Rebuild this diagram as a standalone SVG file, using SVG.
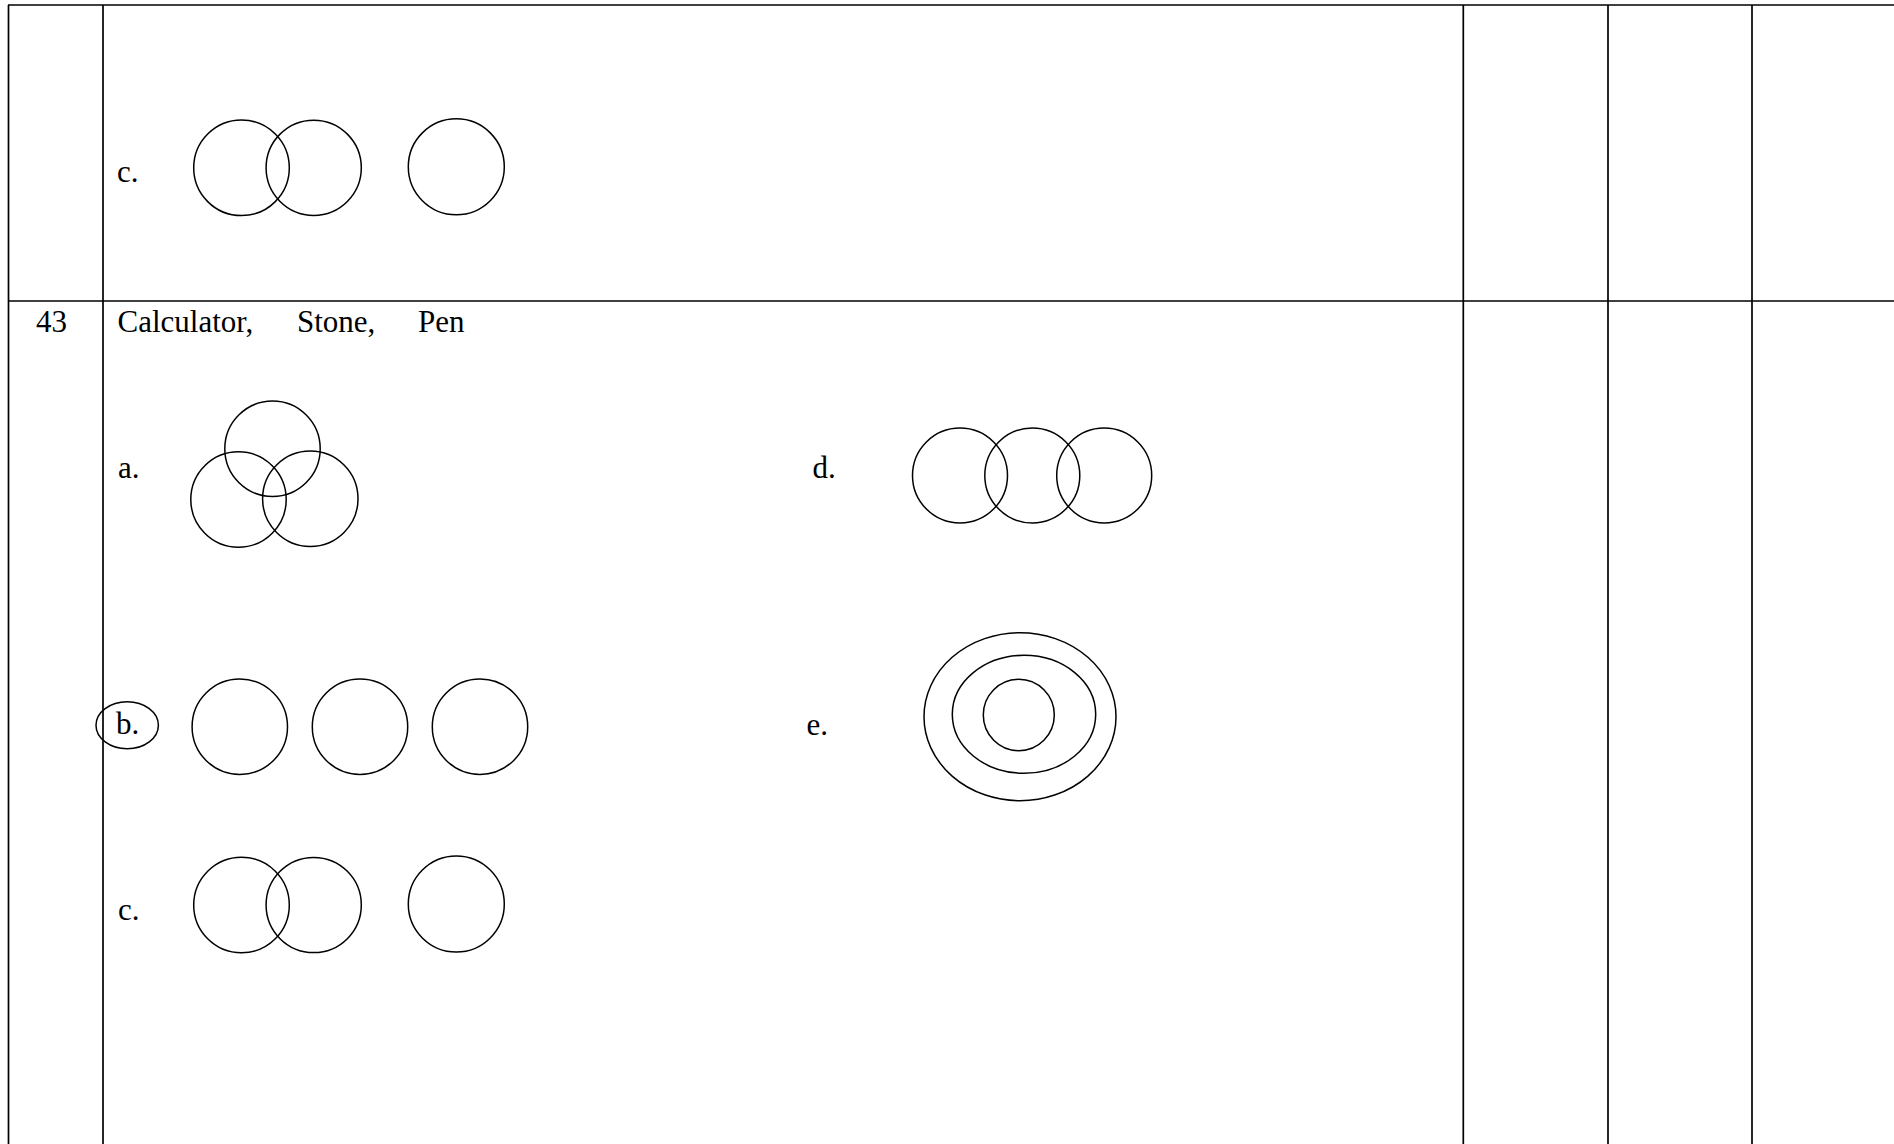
<svg xmlns="http://www.w3.org/2000/svg" width="1894" height="1144" viewBox="0 0 1894 1144">
<style>
.grid{stroke:#000;stroke-width:1.7;fill:none}
.c{stroke:#000;stroke-width:1.5;fill:none}
.t{font-family:"Liberation Serif","Times New Roman",serif;font-size:31px;fill:#000}
</style>
<rect width="1894" height="1144" fill="#fff"/>
<g id="table" class="grid">
<line x1="8" y1="5" x2="1894" y2="5"/>
<line x1="8" y1="301" x2="1894" y2="301"/>
<line x1="8.5" y1="5" x2="8.5" y2="1144"/>
<line x1="103" y1="5" x2="103" y2="1144"/>
<line x1="1463.3" y1="5" x2="1463.3" y2="1144"/>
<line x1="1608" y1="5" x2="1608" y2="1144"/>
<line x1="1752" y1="5" x2="1752" y2="1144"/>
</g>
<g id="prev-c">
<text class="t" x="117" y="182">c.</text>
<circle class="c" cx="241.5" cy="167.8" r="47.8"/>
<circle class="c" cx="313.7" cy="167.8" r="47.6"/>
<circle class="c" cx="456.3" cy="166.8" r="48"/>
</g>
<g id="q43-head">
<text class="t" x="36" y="331.7">43</text>
<text class="t" y="331.7"><tspan x="117.5">Calculator,</tspan><tspan x="297">Stone,</tspan><tspan x="418">Pen</tspan></text>
</g>
<g id="opt-a">
<text class="t" x="118" y="478.3">a.</text>
<circle class="c" cx="272.5" cy="448.8" r="47.7"/>
<circle class="c" cx="238.5" cy="499.5" r="47.7"/>
<circle class="c" cx="310.3" cy="498.7" r="47.7"/>
</g>
<g id="opt-b">
<ellipse class="c" cx="127.2" cy="725.2" rx="31.2" ry="23.5"/>
<text class="t" x="116" y="734">b.</text>
<circle class="c" cx="239.8" cy="726.7" r="47.7"/>
<circle class="c" cx="360" cy="726.7" r="47.7"/>
<circle class="c" cx="480" cy="726.7" r="47.7"/>
</g>
<g id="opt-c">
<text class="t" x="118" y="920">c.</text>
<circle class="c" cx="241.5" cy="905" r="47.8"/>
<circle class="c" cx="313.7" cy="905" r="47.6"/>
<circle class="c" cx="456.3" cy="904" r="48"/>
</g>
<g id="opt-d">
<text class="t" x="812.5" y="478.3">d.</text>
<circle class="c" cx="960" cy="475.5" r="47.5"/>
<circle class="c" cx="1032.3" cy="475.5" r="47.5"/>
<circle class="c" cx="1104.2" cy="475.5" r="47.5"/>
</g>
<g id="opt-e">
<text class="t" x="806.5" y="735">e.</text>
<ellipse class="c" cx="1020" cy="716.7" rx="96" ry="84"/>
<ellipse class="c" cx="1024" cy="714.3" rx="71.7" ry="59"/>
<ellipse class="c" cx="1018.8" cy="715" rx="35.5" ry="35.7"/>
</g>
</svg>
